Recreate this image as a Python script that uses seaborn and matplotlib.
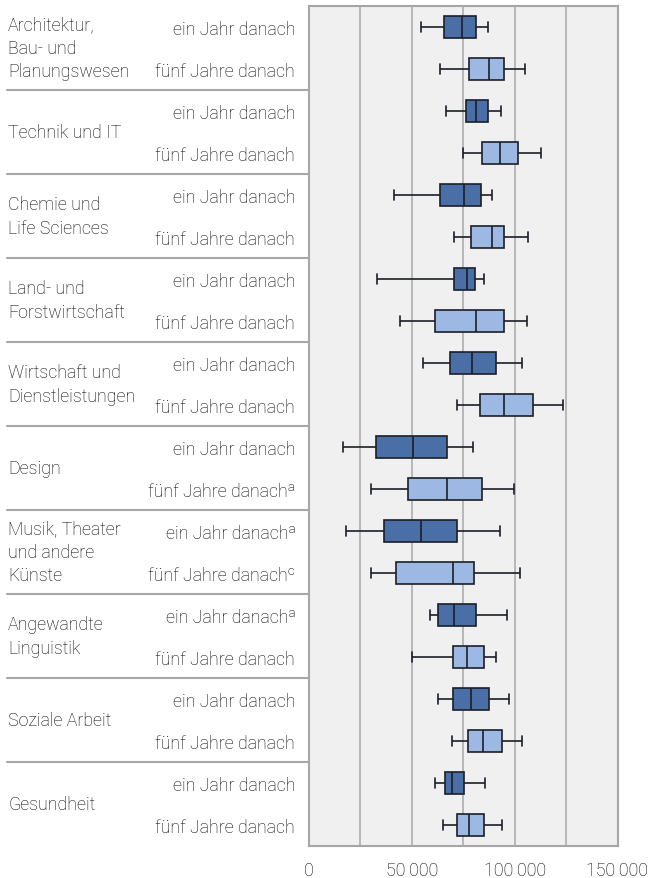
import pandas as pd
import matplotlib.pyplot as plt
import matplotlib.transforms as mtransforms
import seaborn as sns
from matplotlib.ticker import MultipleLocator, FuncFormatter

# Daten: Fachbereiche und Zeitpunkte
fachbereiche = ['Architektur,\nBau- und\nPlanungswesen', 'Technik und IT',
                'Chemie und\nLife Sciences', 'Land- und\nForstwirtschaft',
                'Wirtschaft und\nDienstleistungen', 'Design',
                'Musik, Theater\nund andere\nKünste', 'Angewandte\nLinguistik',
                'Soziale Arbeit', 'Gesundheit']
zeitpunkte = ['ein Jahr danach', 'fünf Jahre danach']

# Beschriftung jeder Zeile (mit Fussnoten)
zeilen_labels = ['ein Jahr danach', 'fünf Jahre danach',
                 'ein Jahr danach', 'fünf Jahre danach',
                 'ein Jahr danach', 'fünf Jahre danach',
                 'ein Jahr danach', 'fünf Jahre danach',
                 'ein Jahr danach', 'fünf Jahre danach',
                 'ein Jahr danach', 'fünf Jahre danach\u1d43',
                 'ein Jahr danach\u1d43', 'fünf Jahre danach\u1d9c',
                 'ein Jahr danach\u1d43', 'fünf Jahre danach',
                 'ein Jahr danach', 'fünf Jahre danach',
                 'ein Jahr danach', 'fünf Jahre danach']

# Fünf-Zahlen-Zusammenfassung pro Zeile
minimum = [54500, 63600, 66700, 74900, 41300, 70400, 32900, 44400, 55300, 71800,
           16700, 30000, 18200, 30000, 58900, 50000, 62900, 69600, 61300, 65000]
q1 = [65500, 77800, 76200, 84300, 63600, 79000, 70700, 61500, 68800, 83200,
      32400, 48200, 36500, 42500, 62500, 69900, 69900, 77400, 66200, 72000]
median = [74600, 87600, 81400, 92900, 75400, 89000, 76900, 81200, 79300, 94900,
          50600, 67300, 54500, 69900, 70700, 76600, 78800, 84800, 69600, 78000]
q3 = [81400, 94900, 86800, 101400, 83800, 95000, 80800, 94900, 90800, 109100,
      67300, 84000, 72200, 80000, 81400, 85000, 87700, 93600, 75600, 85100]
maximum = [86800, 105100, 93400, 113000, 88900, 106400, 85100, 106000, 103500, 123500,
           79800, 99900, 92900, 102600, 96500, 91000, 97300, 103600, 85600, 93600]

farben = {'ein Jahr danach': '#4a6ea6', 'fünf Jahre danach': '#9db9e3'}

# Tabelle in langem Format aufbauen
zeilen = []
for i in range(len(zeilen_labels)):
    for wert in (minimum[i], q1[i], median[i], q3[i], maximum[i]):
        zeilen.append({'zeile': f'{i:02d}',
                       'Zeitpunkt': zeitpunkte[i % 2],
                       'Lohn': wert})
df = pd.DataFrame(zeilen)
reihenfolge = [f'{i:02d}' for i in range(len(zeilen_labels))]

sns.set_style('white')
plt.rcParams['font.family'] = ['Roboto', 'DejaVu Sans']
plt.rcParams['font.weight'] = 'light'
text_farbe = '#000000'
schrift = 12.8

fig = plt.figure(figsize=(6.52, 8.79), dpi=100)
ax = fig.add_axes([309 / 652, 32 / 879, 308.5 / 652, 840 / 879])
ax.set_facecolor('#f0f0f0')

sns.boxplot(data=df, x='Lohn', y='zeile', hue='Zeitpunkt', order=reihenfolge,
            palette=farben, dodge=False, whis=(0, 100), width=0.52,
            saturation=1, linecolor='#1c1f28', linewidth=1.2,
            legend=False, ax=ax)

ax.set_xlim(0, 150000)
ax.set_ylim(len(zeilen_labels) - 0.5, -0.5)
ax.xaxis.set_major_locator(MultipleLocator(25000))
ax.xaxis.set_major_formatter(FuncFormatter(
    lambda v, p: f'{int(v):,}'.replace(',', '\u2009') if v % 50000 == 0 else ''))
ax.grid(axis='x', color='#b3b3b3', linewidth=1.3)
ax.set_axisbelow(True)

ax.set_yticks(range(len(zeilen_labels)))
ax.set_yticklabels(zeilen_labels)
ax.tick_params(axis='y', length=0, pad=10, labelsize=schrift, labelcolor=text_farbe)
ax.tick_params(axis='x', length=5, width=1.3, color='#a6a6a6', pad=6,
               labelsize=schrift, labelcolor=text_farbe)
ax.set_xlabel('')
ax.set_ylabel('')
for s in ax.spines.values():
    s.set_color('#a6a6a6')
    s.set_linewidth(1.5)

# Fachbereiche links und Trennlinien
trans = mtransforms.blended_transform_factory(fig.transFigure, ax.transData)
for k, name in enumerate(fachbereiche):
    fig.text(8 / 652, 2 * k + 0.5, name, transform=trans, ha='left', va='center',
             fontsize=schrift, color=text_farbe, linespacing=1.38)
    if k > 0:
        ax.plot([7 / 652, 309 / 652], [2 * k - 0.5, 2 * k - 0.5], transform=trans,
                color='#a6a6a6', linewidth=1.5, clip_on=False)

plt.savefig('out.png', dpi=100)
